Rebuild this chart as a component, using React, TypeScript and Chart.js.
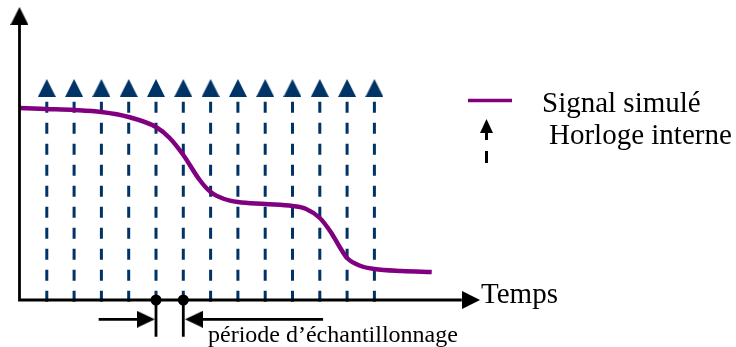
import React, { useEffect, useRef } from "react";
import { Chart, registerables } from "chart.js";

Chart.register(...registerables);

// ---- data (time in sampling periods, amplitude in arbitrary units) ----
const CLOCK_TICKS = [1, 2, 3, 4, 5, 6, 7, 8, 9, 10, 11, 12, 13];
const SIGNAL_T = [0, 1, 2, 3, 4, 5, 5.5, 6, 6.6, 7, 7.5, 8, 9, 10, 10.5, 11, 11.4, 11.75, 12, 12.5, 13, 14, 15.1];
const SIGNAL_V = [19.2, 19.1, 19.0, 18.8, 18.3, 17.3, 16.2, 14.5, 12.0, 10.8, 10.1, 9.8, 9.6, 9.4, 9.1, 8.2, 6.8, 5.2, 4.2, 3.4, 3.1, 2.9, 2.8];
const PERIOD_MARKS = [5, 6];

const LEGEND_LABELS = ["Signal simulé", "Horloge interne"];
const X_LABEL = "Temps";
const PERIOD_LABEL = "période d’échantillonnage";

// ---- scale / drawing geometry (data units) ----
const X_MIN = -0.714, X_MAX = 26.245;
const Y_MIN = -4.7, Y_MAX = 30;
const X_AXIS_END = 16.2, X_AXIS_HEAD = 16.54;
const Y_AXIS_END = 27.5, Y_AXIS_HEAD = 28.4;
const CLOCK_TOP = 19.83, CLOCK_BOTTOM = -0.25, CLOCK_HEAD = 21.2;
const PERIOD_V = -1.93, PERIOD_TICK_BOTTOM = -3.67;
const PERIOD_LEFT = [2.9, 4.45], PERIOD_LEFT_HEAD = 4.63;
const PERIOD_RIGHT = [6.5, 11.12], PERIOD_RIGHT_HEAD = 6.39;

const NAVY = "#003366";
const PURPLE = "#800080";
const SERIF = '"Liberation Serif", "Times New Roman", serif';

function makeTriangle(w: number, h: number, color: string) {
  const c = document.createElement("canvas");
  c.width = w;
  c.height = h;
  const g = c.getContext("2d")!;
  g.fillStyle = color;
  g.beginPath();
  g.moveTo(w / 2, 0);
  g.lineTo(w, h);
  g.lineTo(0, h);
  g.closePath();
  g.fill();
  return c;
}

export default function App() {
  const ref = useRef<HTMLCanvasElement | null>(null);

  useEffect(() => {
    const canvas = ref.current!;
    const navyTri = makeTriangle(18, 18, NAVY);
    const blackTri = makeTriangle(18, 18, "#000");
    const periodTri = makeTriangle(17, 18, "#000");

    const clockLines: any[] = [];
    CLOCK_TICKS.forEach((t) => {
      clockLines.push({ x: t, y: CLOCK_TOP }, { x: t, y: CLOCK_BOTTOM }, { x: t, y: null });
    });
    const periodTicks: any[] = [];
    PERIOD_MARKS.forEach((t) => {
      periodTicks.push({ x: t, y: 0 }, { x: t, y: PERIOD_TICK_BOTTOM }, { x: t, y: null });
    });

    const textPlugin = {
      id: "texts",
      afterDraw(chart: any) {
        const ctx = chart.ctx;
        const xs = chart.scales.x;
        const ys = chart.scales.y;
        ctx.save();
        ctx.fillStyle = "#000";
        ctx.textBaseline = "alphabetic";
        ctx.textAlign = "left";
        // axis label
        ctx.font = `29px ${SERIF}`;
        ctx.fillText(X_LABEL, xs.getPixelForValue(X_AXIS_HEAD) + 10, ys.getPixelForValue(0) + 3);
        // period label
        ctx.font = `24px ${SERIF}`;
        ctx.fillText(PERIOD_LABEL, 208, 342);
        // legend
        ctx.strokeStyle = PURPLE;
        ctx.lineWidth = 3.5;
        ctx.beginPath();
        ctx.moveTo(468, 100.5);
        ctx.lineTo(512, 100.5);
        ctx.stroke();
        ctx.fillStyle = "#000";
        ctx.beginPath();
        ctx.moveTo(486.5, 119);
        ctx.lineTo(493, 133);
        ctx.lineTo(480, 133);
        ctx.closePath();
        ctx.fill();
        ctx.fillRect(485, 132, 3, 8);
        ctx.fillRect(485, 151, 3, 12);
        ctx.font = `29px ${SERIF}`;
        ctx.fillText(LEGEND_LABELS[0], 542, 112);
        ctx.fillText(LEGEND_LABELS[1], 549, 144);
        ctx.restore();
      },
    };

    const chart = new Chart(canvas, {
      type: "scatter",
      data: {
        datasets: [
          // axes
          {
            data: [{ x: 0, y: Y_AXIS_END }, { x: 0, y: 0 }, { x: X_AXIS_END, y: 0 }],
            showLine: true,
            borderColor: "#000",
            borderWidth: 2.8,
            pointRadius: 0,
            order: 0,
          },
          {
            data: [{ x: 0, y: Y_AXIS_HEAD }],
            pointStyle: blackTri,
            pointRadius: 9,
            order: 0,
          },
          {
            data: [{ x: X_AXIS_HEAD, y: 0 }],
            pointStyle: blackTri,
            pointRotation: 90,
            pointRadius: 9,
            order: 0,
          },
          // sampling period marks
          {
            data: PERIOD_MARKS.map((t) => ({ x: t, y: 0 })),
            pointStyle: "circle",
            pointRadius: 5.5,
            backgroundColor: "#000",
            borderColor: "#000",
            borderWidth: 0,
            order: 0,
          },
          {
            data: periodTicks,
            showLine: true,
            spanGaps: false,
            borderColor: "#000",
            borderWidth: 2.8,
            pointRadius: 0,
            order: 0,
          },
          {
            data: [{ x: PERIOD_LEFT[0], y: PERIOD_V }, { x: PERIOD_LEFT[1], y: PERIOD_V }, { x: PERIOD_LEFT[1], y: null },
                   { x: PERIOD_RIGHT[0], y: PERIOD_V }, { x: PERIOD_RIGHT[1], y: PERIOD_V }],
            showLine: true,
            spanGaps: false,
            borderColor: "#000",
            borderWidth: 2.8,
            pointRadius: 0,
            order: 0,
          },
          {
            data: [{ x: PERIOD_LEFT_HEAD, y: PERIOD_V }],
            pointStyle: periodTri,
            pointRotation: 90,
            pointRadius: 9,
            order: 0,
          },
          {
            data: [{ x: PERIOD_RIGHT_HEAD, y: PERIOD_V }],
            pointStyle: periodTri,
            pointRotation: -90,
            pointRadius: 9,
            order: 0,
          },
          // signal
          {
            label: LEGEND_LABELS[0],
            data: SIGNAL_T.map((t, i) => ({ x: t, y: SIGNAL_V[i] })),
            showLine: true,
            borderColor: PURPLE,
            borderWidth: 4.5,
            pointRadius: 0,
            cubicInterpolationMode: "monotone",
            order: 1,
          },
          // internal clock
          {
            label: LEGEND_LABELS[1],
            data: clockLines,
            showLine: true,
            spanGaps: false,
            borderColor: NAVY,
            borderWidth: 3,
            borderDash: [11, 10],
            pointRadius: 0,
            order: 2,
          },
          {
            data: CLOCK_TICKS.map((t) => ({ x: t, y: CLOCK_HEAD })),
            pointStyle: navyTri,
            pointRadius: 9,
            order: 2,
          },
        ] as any,
      },
      options: {
        animation: false,
        responsive: false,
        events: [],
        layout: { padding: 0, autoPadding: false },
        plugins: { legend: { display: false }, tooltip: { enabled: false }, title: { display: false } },
        scales: {
          x: { type: "linear", min: X_MIN, max: X_MAX, display: false },
          y: { type: "linear", min: Y_MIN, max: Y_MAX, display: false },
        },
      },
      plugins: [textPlugin],
    });
    return () => chart.destroy();
  }, []);

  return (
    <div style={{ position: "fixed", left: 0, top: 0, width: 736, height: 347, background: "#fff" }}>
      <canvas ref={ref} width={736} height={347} style={{ display: "block", width: 736, height: 347 }} />
    </div>
  );
}
